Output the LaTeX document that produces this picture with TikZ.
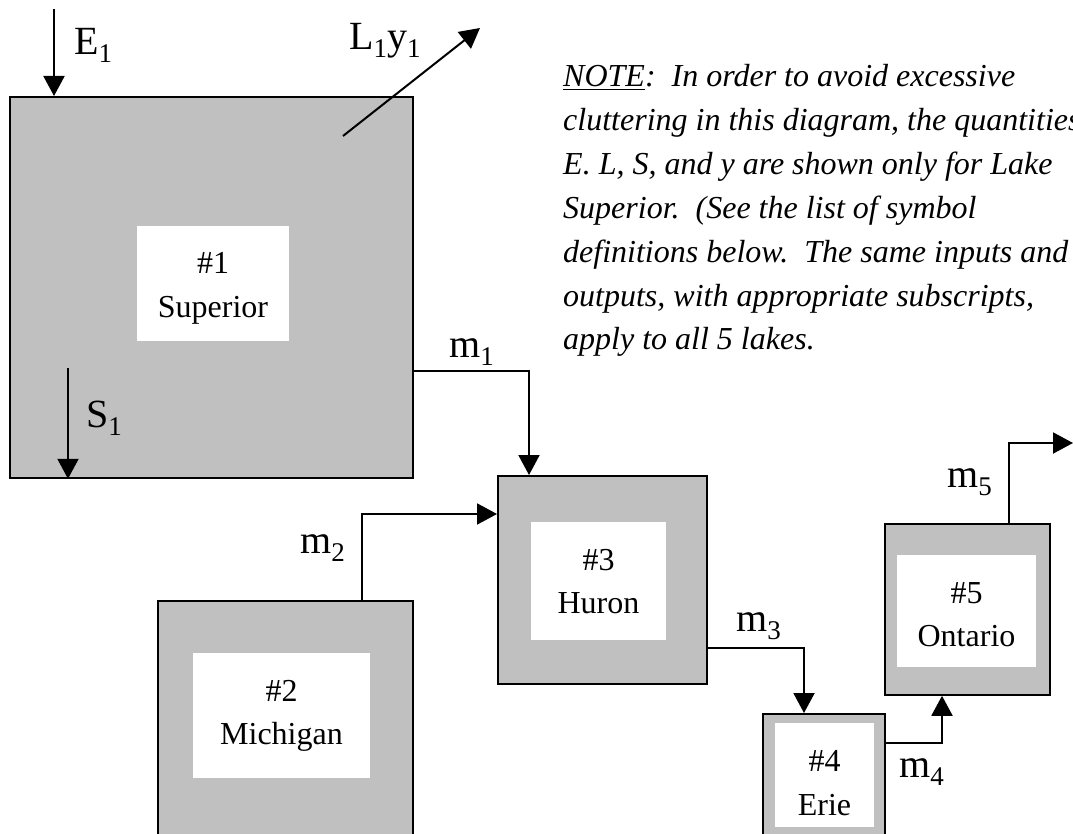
\documentclass[tikz,border=0pt]{standalone}
\usepackage{fontspec}
\setmainfont{Liberation Serif}
\usetikzlibrary{arrows.meta}
\definecolor{lakegray}{HTML}{C0C0C0}
\newcommand{\lbl}[2]{{\fontsize{40}{40}\selectfont #1\raisebox{-8pt}{\fontsize{27}{27}\selectfont #2}}}
\begin{document}
\begin{tikzpicture}[x=1pt,y=-1pt,
  lake/.style={draw=black, line width=1.8pt, fill=lakegray, rectangle, inner sep=0pt, anchor=north west},
  whitebox/.style={fill=white, draw=none, rectangle, inner sep=0pt, anchor=north west},
  lakename/.style={anchor=base, inner sep=0pt, font=\fontsize{32}{32}\selectfont},
  conn/.style={draw=black, line width=2pt, -{Triangle[width=21pt,length=20pt]}},
  flowlabel/.style={anchor=base west, inner sep=0pt},
  notetext/.style={anchor=base west, inner sep=0pt, font=\fontsize{32}{44}\selectfont\itshape}]
\useasboundingbox (0,0) rectangle (1073,834);
\clip (0,0) rectangle (1073,834);
\fill[white] (0,0) rectangle (1073,834);

% lakes
\node[lake, minimum width=403pt, minimum height=381pt] (sup) at (9,96) {};
\node[whitebox, minimum width=152pt, minimum height=115pt] (supw) at (137,226) {};
\node[lakename] (sup1) at (213,274) {\#1};
\node[lakename] (sup2) at (213,317) {Superior};

\node[lake, minimum width=255pt, minimum height=260pt] (mic) at (157,600) {};
\node[whitebox, minimum width=177pt, minimum height=125pt] (micw) at (193,653) {};
\node[lakename] (mic1) at (281.5,701) {\#2};
\node[lakename] (mic2) at (281.5,744) {Michigan};

\node[lake, minimum width=209pt, minimum height=208pt] (hur) at (497,475) {};
\node[whitebox, minimum width=135pt, minimum height=118pt] (hurw) at (531,522) {};
\node[lakename] (hur1) at (598.5,570) {\#3};
\node[lakename] (hur2) at (598.5,613) {Huron};

\node[lake, minimum width=122pt, minimum height=150pt] (eri) at (762,713) {};
\node[whitebox, minimum width=99pt, minimum height=104pt] (eriw) at (775,723) {};
\node[lakename] (eri1) at (824.5,771) {\#4};
\node[lakename] (eri2) at (824.5,815) {Erie};

\node[lake, minimum width=165pt, minimum height=171pt] (ont) at (884,523) {};
\node[whitebox, minimum width=139pt, minimum height=112pt] (ontw) at (897,555) {};
\node[lakename] (ont1) at (966.5,603) {\#5};
\node[lakename] (ont2) at (966.5,646) {Ontario};

% free ends
\coordinate (e1start) at (54,9);
\coordinate (s1start) at (68,368);
\coordinate (l1start) at (343,136);
\coordinate (l1end) at (480,28);
\coordinate (m5end) at (1073,443);

% connectors
\draw[conn] (e1start) -- (sup.north -| 54,0);
\draw[conn] (s1start) -- (sup.south -| 68,0);
\draw[conn] (l1start) -- (l1end);
\draw[conn] (sup.east |- 0,371) -| (hur.north -| 529,0);
\draw[conn] (mic.north -| 362,0) |- (hur.west |- 0,514);
\draw[conn] (hur.east |- 0,648) -| (eri.north -| 804,0);
\draw[conn] (eri.east |- 0,743) -| (ont.south -| 942,0);
\draw[conn] (ont.north -| 1009,0) |- (m5end);

% flow labels
\node[flowlabel] (le) at (74,55) {\lbl{E}{1}};
\node[flowlabel] (ll) at (349,50) {\lbl{L}{1}\lbl{y}{1}};
\node[flowlabel] (ls) at (86,427) {\lbl{S}{1}};
\node[flowlabel] (lm1) at (449,357) {\lbl{m}{1}};
\node[flowlabel] (lm2) at (300,553) {\lbl{m}{2}};
\node[flowlabel] (lm3) at (736,631) {\lbl{m}{3}};
\node[flowlabel] (lm4) at (899,777) {\lbl{m}{4}};
\node[flowlabel] (lm5) at (947,487) {\lbl{m}{5}};

% note
\node[notetext] (n1) at (563,87) {\underline{NOTE}:\ \ In order to avoid excessive};
\node[notetext] (n2) at (563,130.8) {cluttering in this diagram, the quantities};
\node[notetext] (n3) at (563,174.6) {E. L, S, and y are shown only for Lake};
\node[notetext] (n4) at (563,218.4) {Superior.\ \ (See the list of symbol};
\node[notetext] (n5) at (563,262.2) {definitions below.\ \ The same inputs and};
\node[notetext] (n6) at (563,306) {outputs, with appropriate subscripts,};
\node[notetext] (n7) at (563,349.8) {apply to all 5 lakes.};
\end{tikzpicture}
\end{document}
